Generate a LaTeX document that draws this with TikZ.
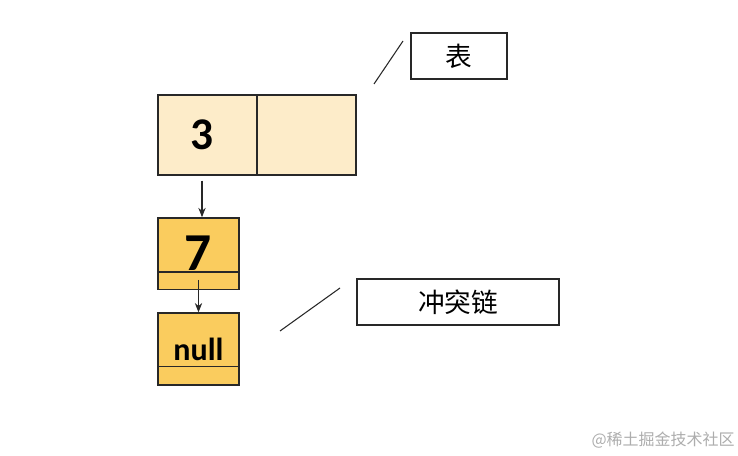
\documentclass[tikz,border=0pt]{standalone}
\usepackage{fontspec}
\setmainfont{Carlito}
\newfontfamily\cjk{Noto Sans CJK SC}
\usetikzlibrary{arrows.meta,calc}
\definecolor{cream}{RGB}{253,236,201}
\definecolor{gold}{RGB}{250,204,94}
\definecolor{edge}{RGB}{40,40,40}
\begin{document}
\begin{tikzpicture}[x=0.75pt,y=-0.75pt,
  box/.style={draw=edge,line width=1pt,inner sep=0pt},
  tcell/.style={box,fill=cream,minimum width=74.25pt,minimum height=60pt,font=\bfseries\fontsize{34}{34}\selectfont},
  lnode/.style={box,fill=gold,minimum width=60.75pt,minimum height=53.5pt},
  lbl/.style={box,fill=white,minimum height=34.5pt,font=\cjk\fontsize{20}{20}\selectfont},
  arr/.style={draw=edge,line width=0.8pt,-{Stealth[length=7pt,width=5.5pt]}},
  lead/.style={draw=edge,line width=0.8pt}]
\fill[white] (0,0) rectangle (738,456);
\useasboundingbox (0,0) rectangle (738,456);
% table
\node[tcell] (c1) at (207.5,135) {\hspace*{-8pt}3};
\node[tcell] (c2) at (306.5,135) {};
% chain
\node[lnode,font=\bfseries\fontsize{40}{40}\selectfont] (seven) at (198.5,253.5) {7};
\node[lnode,minimum height=54pt,font=\bfseries\fontsize{24}{24}\selectfont] (null) at (198.5,349) {null};
\draw[box] ($(seven.south west)+(0,-18)$) -- ($(seven.south east)+(0,-18)$);
\draw[box] ($(null.south west)+(0,-19)$) -- ($(null.south east)+(0,-19)$);
% arrows
\draw[arr] ($(c1.south)+(-5.5,5)$) coordinate (a1) -- (a1 |- seven.north);
\draw[arr] ($(seven.south)+(0,-10)$) -- (null.north);
% labels
\node[lbl,minimum width=72pt] (biao) at (459,56) {表};
\node[lbl,minimum width=151.5pt] (chong) at (458,302) {冲突链};
\coordinate (b1) at (374,84);
\coordinate (b2) at (403,41);
\coordinate (k1) at (280,331);
\coordinate (k2) at (340,288);
\draw[lead] (b1) -- (b2);
\draw[lead] (k1) -- (k2);
% watermark
\node[text=black!32,font=\cjk\fontsize{12}{12}\selectfont,anchor=east,inner sep=0pt] (wm) at (735,440) {@稀土掘金技术社区};
\end{tikzpicture}
\end{document}
